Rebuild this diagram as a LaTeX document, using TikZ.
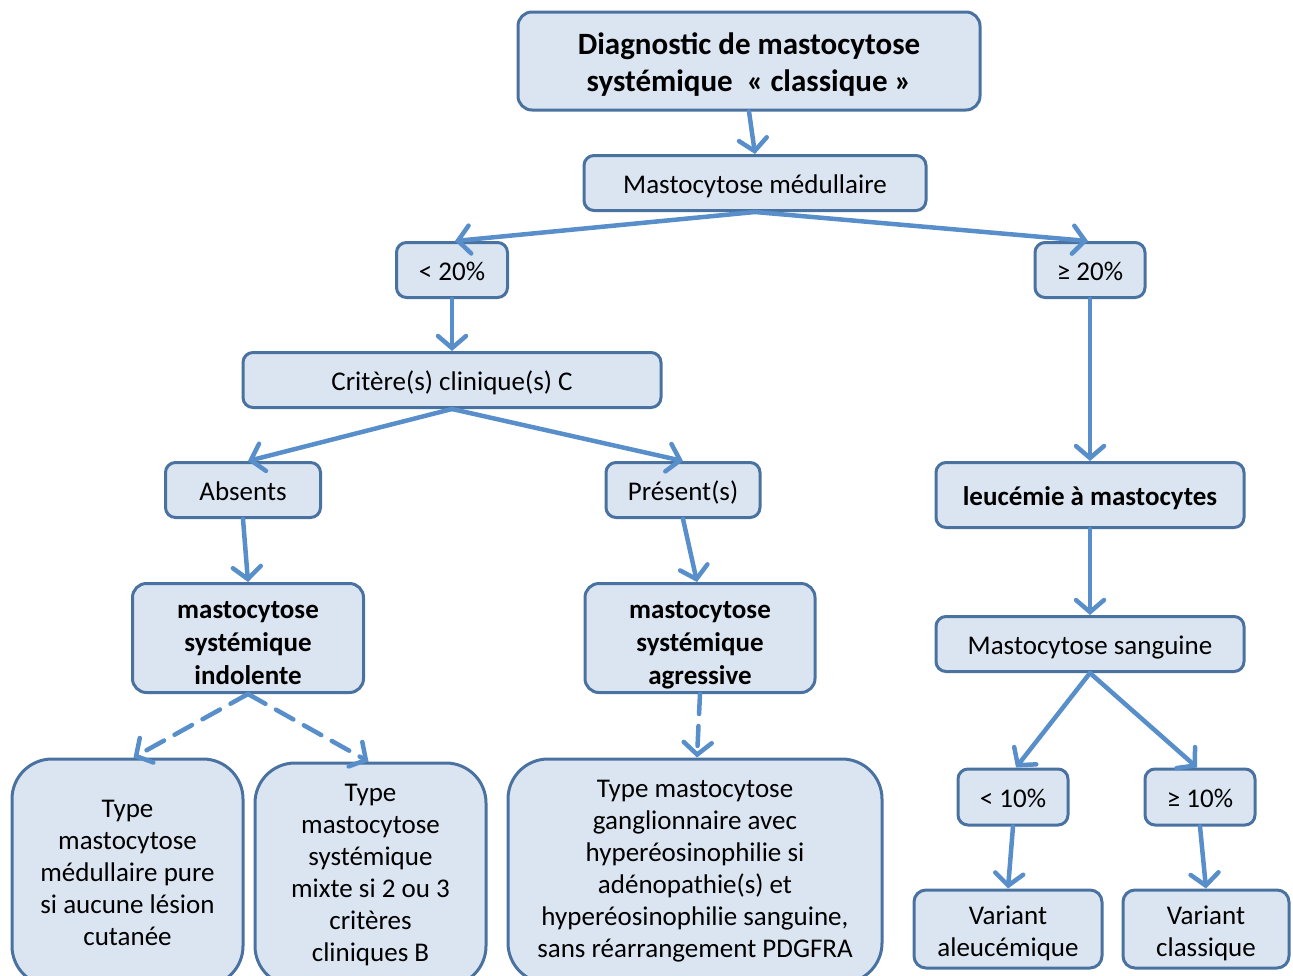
\documentclass[tikz,border=0pt]{standalone}
\usepackage{fontspec}
\setmainfont{Carlito}
\usetikzlibrary{arrows.meta}
\definecolor{bfill}{RGB}{219,229,241}
\definecolor{bdraw}{RGB}{74,114,160}
\definecolor{arr}{RGB}{88,143,202}
\begin{document}
\begin{tikzpicture}[x=1pt,y=-1pt,
  box/.style={draw=bdraw, fill=bfill, line width=3pt, rounded corners=10pt, align=center, inner sep=0pt, font=\fontsize{27}{32}\selectfont},
  one/.style={text height=25pt, text depth=3.5pt},
  bbox/.style={box, font=\fontsize{27}{33}\bfseries\selectfont},
  bigbox/.style={box, rounded corners=40pt},
  arrowline/.style={draw=arr, line width=4.5pt, -{Straight Barb[length=12pt,width=28pt,line width=4.5pt,line cap=round]}, line cap=round},
  dashline/.style={arrowline, dash pattern=on 20pt off 12pt}]
\useasboundingbox (0,0) rectangle (1293,975);
\begin{scope}
\clip (0,0) rectangle (1293,975);
\node[bbox, rounded corners=14pt, minimum width=462pt, minimum height=98pt, font=\fontsize{31}{37}\bfseries\selectfont, text height=66pt, text depth=6pt] (title) at (749,61) {Diagnostic de mastocytose\\systémique ~« classique »};
\node[box, one, minimum width=342pt, minimum height=55pt] (med) at (755,183) {Mastocytose médullaire};
\node[box, one, minimum width=111pt, minimum height=55pt] (lt20) at (452,270) {< 20\%};
\node[box, one, minimum width=110pt, minimum height=55pt] (ge20) at (1090,270) {≥ 20\%};
\node[box, one, minimum width=418pt, minimum height=55pt] (crit) at (452,380) {Critère(s) clinique(s) C};
\node[box, one, minimum width=155pt, minimum height=55pt] (abs) at (243,490) {Absents};
\node[box, one, minimum width=154pt, minimum height=55pt] (pres) at (683,490) {Présent(s)};
\node[bbox, one, minimum width=308pt, minimum height=65pt] (leuc) at (1090,495) {leucémie à mastocytes};
\node[bbox, rounded corners=14pt, minimum width=231pt, minimum height=109pt, text height=97pt, text depth=4pt] (indol) at (248,638) {mastocytose\\systémique\\indolente};
\node[bbox, rounded corners=14pt, minimum width=230pt, minimum height=109pt, text height=97pt, text depth=4pt] (agr) at (700,638) {mastocytose\\systémique\\agressive};
\node[box, one, minimum width=308pt, minimum height=55pt] (sang) at (1090,644) {Mastocytose sanguine};
\node[bigbox, minimum width=231pt, minimum height=227pt] (b1) at (127.5,872.5) {Type\\mastocytose\\médullaire pure\\si aucune lésion\\cutanée};
\node[bigbox, minimum width=231pt, minimum height=223pt] (b2) at (370.5,874.5) {Type\\mastocytose\\systémique\\mixte si 2 ou 3\\critères\\cliniques B};
\node[bigbox, minimum width=374pt, minimum height=224pt] (b3) at (695,871) {Type mastocytose\\ganglionnaire avec\\hyperéosinophilie si\\adénopathie(s) et\\hyperéosinophilie sanguine,\\sans réarrangement PDGFRA};
\node[box, one, minimum width=110pt, minimum height=56pt] (lt10) at (1013,797) {< 10\%};
\node[box, one, minimum width=110pt, minimum height=56pt] (ge10) at (1200,797) {≥ 10\%};
\node[box, rounded corners=12pt, minimum width=188pt, minimum height=78pt, text height=59pt, text depth=5pt] (va) at (1008,929) {Variant\\aleucémique};
\node[box, rounded corners=12pt, minimum width=166pt, minimum height=78pt, text height=59pt, text depth=5pt] (vc) at (1206,929) {Variant\\classique};
\end{scope}
\draw[arrowline] (title.south) -- (med.north);
\draw[arrowline] (med.south) -- ([xshift=3pt]lt20.north);
\draw[arrowline] (med.south) -- ([xshift=-2pt]ge20.north);
\draw[arrowline] (lt20.south) -- (crit.north);
\draw[arrowline] (ge20.south) -- (leuc.north);
\draw[arrowline] (crit.south) -- ([xshift=5pt]abs.north);
\draw[arrowline] (crit.south) -- (pres.north);
\draw[arrowline] (abs.south) -- (indol.north);
\draw[arrowline] (pres.south) -- ([xshift=-3pt]agr.north);
\draw[dashline] (indol.south) -- ([xshift=6pt]b1.north);
\draw[dashline] (indol.south) -- ([xshift=-2pt]b2.north);
\draw[dashline] (agr.south) -- ([xshift=2pt]b3.north);
\draw[arrowline] (leuc.south) -- (sang.north);
\draw[arrowline] (sang.south) -- ([xshift=3pt]lt10.north);
\draw[arrowline] (sang.south) -- ([xshift=-3pt]ge10.north);
\draw[arrowline] (lt10.south) -- (va.north);
\draw[arrowline] (ge10.south) -- (vc.north);
\end{tikzpicture}
\end{document}
